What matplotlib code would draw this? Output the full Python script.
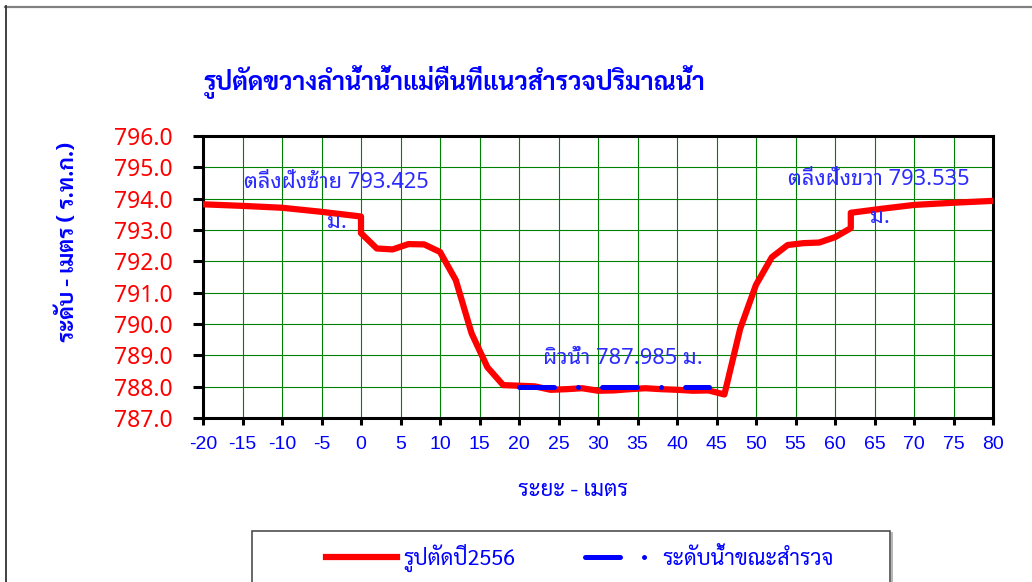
import matplotlib
matplotlib.use("Agg")
import matplotlib.pyplot as plt
from matplotlib.lines import Line2D
from matplotlib.patches import Rectangle
import numpy as np

plt.rcParams['axes.unicode_minus'] = False

# cross-section survey data (distance m, elevation m MSL)
dist = [-20, -15, -10, -5, 0, 0, 2, 4, 6, 8, 10, 12, 14, 16, 18, 20, 22, 24, 26, 28,
        30, 32, 34, 36, 38, 40, 42, 44, 46, 48, 50, 52, 54, 56, 58, 60, 62, 62, 66, 70, 75, 80]
elev = [793.82, 793.77, 793.71, 793.58, 793.43, 792.90, 792.41, 792.38, 792.55, 792.54,
        792.30, 791.40, 789.70, 788.62, 788.05, 788.03, 788.01, 787.90, 787.92, 787.95,
        787.87, 787.88, 787.92, 787.95, 787.92, 787.90, 787.87, 787.88, 787.75, 789.85,
        791.25, 792.13, 792.52, 792.58, 792.60, 792.77, 793.06, 793.55, 793.68, 793.80,
        793.87, 793.93]

water_x = [20, 44]
water_y = [787.985, 787.985]

xticks = np.arange(-20, 81, 5)
yticks = np.arange(787, 796.1, 1)

title = 'รูปตัดขวางลำน้ำน้ำแม่ตืนที่แนวสำรวจปริมาณน้ำ'
xlab = 'ระยะ - เมตร'
ylab = 'ระดับ - เมตร ( ร.ท.ก.)'
lab_sec = 'รูปตัดปี2556'
lab_wat = 'ระดับน้ำขณะสำรวจ'

thai = ['Noto Sans Thai Looped', 'Noto Sans']
thai_c = ['Sarabun', 'DejaVu Sans']
blue_t = '#2b2bff'
fs_ann = 15.7

W, H = 1032, 582
fig = plt.figure(figsize=(W / 100, H / 100), dpi=100)
ax = fig.add_axes([203 / W, 1 - 418 / H, 790 / W, 282 / H])

ax.plot(dist, elev, color='#ff0000', lw=4.5, solid_joinstyle='round', zorder=3)
ax.plot(water_x, water_y, color='#0000ff', lw=3.6, dashes=(7, 4.8, 0.01, 4.8),
        dash_capstyle='round', zorder=4)

ax.set_xlim(-20, 80)
ax.set_ylim(787, 796)
ax.set_xticks(xticks)
ax.set_yticks(yticks)
ax.set_xticklabels([str(v) for v in xticks])
ax.set_yticklabels(['%.1f' % v for v in yticks])
ax.grid(True, color='#008000', lw=0.8)
ax.set_axisbelow(True)
for s in ax.spines.values():
    s.set_linewidth(2.2)
    s.set_color('k')
ax.tick_params(axis='x', direction='out', length=5, width=2.2, pad=8,
               labelsize=14, labelcolor='#0000ff')
ax.tick_params(axis='y', direction='out', length=7, width=2.2, pad=15,
               labelsize=16.5, labelcolor='#ff0000')
for t in ax.get_xticklabels():
    t.set_fontfamily('Liberation Sans')
for t in ax.get_yticklabels():
    t.set_fontfamily('Noto Sans')

# annotations
ax.text(-14.8, 794.5, 'ตลิ่งฝั่งซ้าย 793.425', family=thai, fontsize=fs_ann,
        color=blue_t, va='center', ha='left')
ax.text(-4.3, 793.25, 'ม.', family=thai, fontsize=fs_ann, color=blue_t, va='center')
ax.text(54.0, 794.6, 'ตลิ่งฝั่งขวา 793.535', family=thai, fontsize=fs_ann,
        color=blue_t, va='center', ha='left')
ax.text(64.4, 793.4, 'ม.', family=thai, fontsize=fs_ann, color=blue_t, va='center')
ax.text(23.0, 788.9, 'ผิวน้ำ 787.985 ม.', family=thai, fontsize=fs_ann,
        color=blue_t, va='center', ha='left')

fig.text(454 / W, 1 - 82 / H, title, family=thai_c, fontsize=18, fontweight='bold',
         color='#0000ff', ha='center', va='center')
fig.text(573 / W, 1 - 491 / H, xlab, family=thai_c, fontsize=16, color='#0000ff',
         ha='center', va='center')
fig.text(68 / W, 1 - 242 / H, ylab, family=thai_c, fontsize=16, fontweight='bold',
         color='#0000ff', ha='center', va='center', rotation=90)

# outer chart frame (cropped)
fig.add_artist(Line2D([5 / W, 1], [1 - 6.7 / H, 1 - 6.7 / H], color='#808080', lw=1.6,
                      transform=fig.transFigure))
fig.add_artist(Line2D([5.8 / W, 5.8 / W], [0, 1 - 6 / H], color='#333333', lw=1.3,
                      transform=fig.transFigure))

# legend box
fig.add_artist(Rectangle((252 / W, -0.05), 638 / W, 0.05 + 1 - 531 / H, transform=fig.transFigure,
                         fill=False, ec='#404040', lw=1.1))
fig.add_artist(Line2D([891.5 / W, 891.5 / W], [0, 1 - 533 / H], color='#b0b0b0', lw=1.3,
                      transform=fig.transFigure))
h1 = Line2D([], [], color='#ff0000', lw=4.5)
h2 = Line2D([], [], color='#0000ff', lw=3.6, dashes=(7, 4.8, 0.01, 4.8), dash_capstyle='round')
fig.legend([h1, h2], [lab_sec, lab_wat], loc='center left', bbox_to_anchor=(326 / W, 1 - 558 / H),
           ncol=2, frameon=False, prop={'family': thai_c, 'size': 15.5},
           handlelength=3.3, handletextpad=0.3, columnspacing=3.2, borderpad=0, borderaxespad=0,
           labelcolor='#0000ff')

fig.savefig('out.png', dpi=100)
